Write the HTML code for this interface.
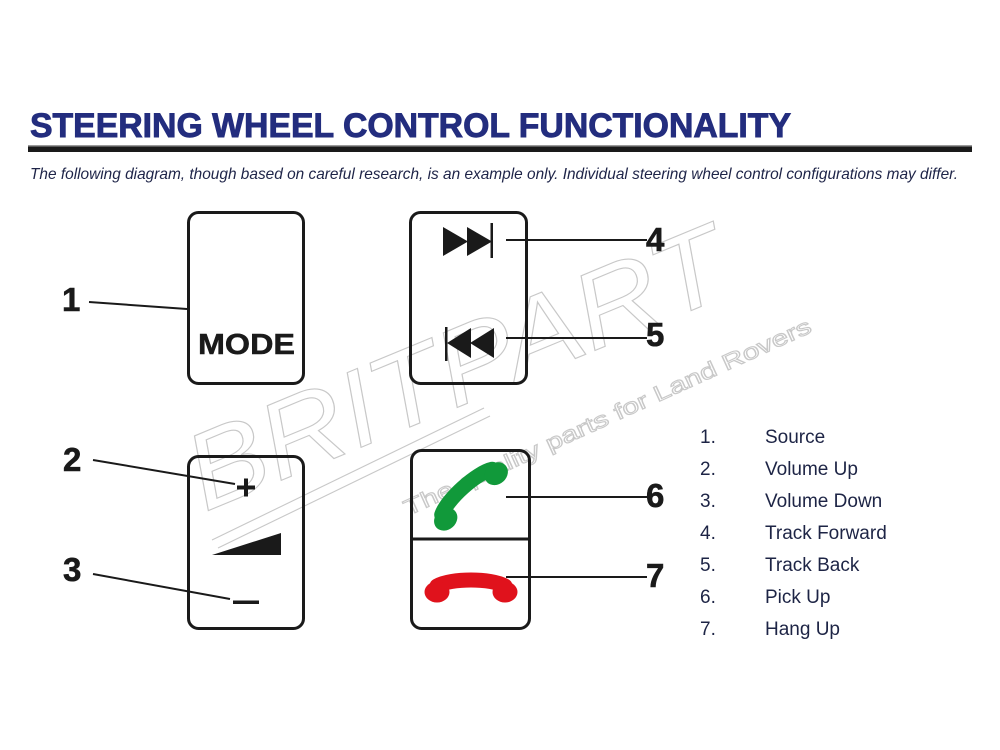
<!DOCTYPE html>
<html><head><meta charset="utf-8"><style>
html,body{margin:0;padding:0;background:#fff;}
svg{display:block;}
</style></head><body>
<svg width="1000" height="750" viewBox="0 0 1000 750" xmlns="http://www.w3.org/2000/svg">
<rect width="1000" height="750" fill="#fff"/>
<!-- Title -->
<text x="30" y="137" font-family="Liberation Sans, sans-serif" font-weight="bold" font-size="34" fill="#232d7e" stroke="#232d7e" stroke-width="0.9" textLength="761" lengthAdjust="spacingAndGlyphs">STEERING WHEEL CONTROL FUNCTIONALITY</text>
<rect x="28" y="145" width="944" height="1.5" fill="#9a9a9a"/>
<rect x="28" y="146.5" width="944" height="5.5" fill="#1a1a1a"/>
<text x="30" y="179" font-family="Liberation Sans, sans-serif" font-style="italic" font-size="16" fill="#1e2448" textLength="928" lengthAdjust="spacingAndGlyphs">The following diagram, though based on careful research, is an example only. Individual steering wheel control configurations may differ.</text>

<!-- Watermark -->
<g fill="none" stroke="#c8c8c8" stroke-width="1.1" font-family="Liberation Sans, sans-serif">
  <text transform="translate(205,512) rotate(-22.5)" font-size="108" font-style="italic" textLength="574" lengthAdjust="spacingAndGlyphs">BRITPART</text>
  <line x1="212" y1="540" x2="484" y2="408"/>
  <line x1="218" y1="548" x2="490" y2="416"/>
  <text transform="translate(408,516) rotate(-24.5)" font-size="22" textLength="445" lengthAdjust="spacingAndGlyphs">The quality parts for Land Rovers</text>
</g>

<g fill="none" stroke="#1a1a1a" stroke-width="3">
  <rect x="188.5" y="212.5" width="115" height="171" rx="10"/>
  <rect x="410.5" y="212.5" width="116" height="171" rx="10"/>
  <rect x="188.5" y="456.5" width="115" height="172" rx="10"/>
  <rect x="411.5" y="450.5" width="118" height="178" rx="10"/>
  <line x1="411.5" y1="539" x2="529.5" y2="539"/>
</g>

<!-- MODE -->
<text x="198" y="354" font-family="Liberation Sans, sans-serif" font-weight="bold" font-size="29" fill="#1a1a1a" stroke="#1a1a1a" stroke-width="0.5" textLength="97" lengthAdjust="spacingAndGlyphs">MODE</text>

<g fill="#1a1a1a">
  <!-- Forward -->
  <polygon points="443,227 468,241.5 443,256"/>
  <polygon points="467,227 492,241.5 467,256"/>
  <rect x="490.5" y="223" width="2.5" height="35"/>
  <!-- Back -->
  <rect x="445" y="327" width="2.5" height="34"/>
  <polygon points="447,343 471,328 471,358"/>
  <polygon points="470,343 494,328 494,358"/>
  <!-- plus -->
  <rect x="237" y="485.5" width="18" height="4"/>
  <rect x="244" y="478.5" width="4" height="18"/>
  <!-- volume wedge -->
  <polygon points="212,555 281,533 281,555"/>
  <!-- minus -->
  <rect x="233" y="600.5" width="26" height="3.5"/>
</g>

<!-- Phones -->
<defs>
  <g id="ph">
    <path d="M -34,-2 C -20,-10 20,-10 34,-2" fill="none" stroke-width="15" stroke-linecap="round"/>
    <ellipse cx="-34" cy="4" rx="12.5" ry="10.5" stroke="none"/>
    <ellipse cx="34" cy="4" rx="12.5" ry="10.5" stroke="none"/>
  </g>
</defs>
<g fill="#e0121c" stroke="#e0121c"><use href="#ph" transform="translate(471,588)"/></g>
<g fill="#11993a" stroke="#11993a"><use href="#ph" transform="translate(468.3,493.5) rotate(-42)"/></g>

<!-- Connectors -->
<g stroke="#1a1a1a" stroke-width="2">
  <line x1="89" y1="302" x2="187" y2="309"/>
  <line x1="93" y1="460" x2="235" y2="484"/>
  <line x1="93" y1="574" x2="230" y2="599"/>
  <line x1="506" y1="240" x2="647" y2="240"/>
  <line x1="506" y1="338" x2="647" y2="338"/>
  <line x1="506" y1="497" x2="647" y2="497"/>
  <line x1="506" y1="577" x2="647" y2="577"/>
</g>
<g font-family="Liberation Sans, sans-serif" font-weight="bold" font-size="33" fill="#1a1a1a" stroke="#1a1a1a" stroke-width="0.6">
  <text x="62" y="311">1</text>
  <text x="63" y="471">2</text>
  <text x="63" y="581">3</text>
  <text x="646" y="251">4</text>
  <text x="646" y="346">5</text>
  <text x="646" y="507">6</text>
  <text x="646" y="587">7</text>
</g>

<!-- Legend -->
<g font-family="Liberation Sans, sans-serif" font-size="19" fill="#1d2445">
  <text x="700" y="443">1.</text><text x="765" y="443">Source</text>
  <text x="700" y="475">2.</text><text x="765" y="475">Volume Up</text>
  <text x="700" y="507">3.</text><text x="765" y="507">Volume Down</text>
  <text x="700" y="539">4.</text><text x="765" y="539">Track Forward</text>
  <text x="700" y="571">5.</text><text x="765" y="571">Track Back</text>
  <text x="700" y="603">6.</text><text x="765" y="603">Pick Up</text>
  <text x="700" y="635">7.</text><text x="765" y="635">Hang Up</text>
</g>
</svg>
</body></html>
